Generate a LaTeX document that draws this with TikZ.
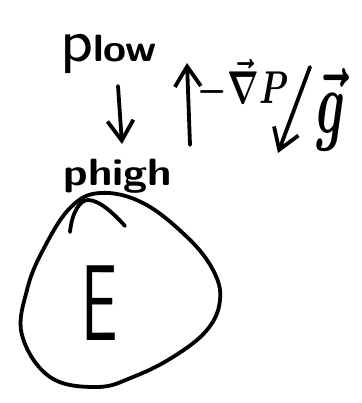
\documentclass[tikz,border=0pt]{standalone}
\usepackage{graphicx}
\usepackage{fontspec}
\usetikzlibrary{arrows.meta}
\begin{document}
\begin{tikzpicture}[x=1pt,y=-1pt,
  ink/.style={line width=3.8pt,line cap=round,line join=round},
  barb/.style={-{Straight Barb[length=20pt,width=26pt,line width=3.8pt]}},
  hand/.style={inner sep=0pt,font=\sffamily},
  mhand/.style={inner sep=0pt,font=\boldmath}]
\path[fill=white] (0,0) rectangle (361,403);
\useasboundingbox (0,0) rectangle (361,403);
% labels
\node[hand,anchor=base west] (plow) at (60,62)
  {\scalebox{1.1}[1]{\fontsize{62}{62}\selectfont p\bfseries\fontsize{38}{38}\selectfont low}};
\node[hand,anchor=base] (phigh) at (118,185)
  {\scalebox{1.15}[1]{\bfseries\fontsize{38}{38}\selectfont phigh}};
\node[mhand] (grad) at (243,84) {\scalebox{3.3}[4.6]{$-\vec{\nabla}P$}};
\node[mhand] (g) at (331,110) {\scalebox{5}[9]{$\vec{g}$}};
\node[hand] (E) at (100,303) {\scalebox{0.6}[1]{\fontsize{108}{108}\selectfont E}};
% arrows
\coordinate (d0) at (118,86);
\coordinate (d1) at (122,144);
\draw[ink,barb] (d0) -- (d1);
\coordinate (u0) at (190,145);
\coordinate (u1) at (187,63);
\draw[ink,barb] (u0) -- (u1);
\coordinate (s0) at (310,67);
\coordinate (s1) at (278,153);
\draw[ink,barb] (s0) -- (s1);
% blob
\draw[ink] plot[smooth cycle,tension=0.65] coordinates
  {(100,193) (143,203) (187,237) (213,270) (220,300) (207,330) (173,357)
   (133,377) (97,387) (50,377) (22,335) (27,290) (43,250) (70,208)};
% cap
\draw[ink] (70,232) .. controls (72,212) and (80,200) .. (88,200)
  .. controls (100,200) and (115,215) .. (125,226);
\end{tikzpicture}
\end{document}
